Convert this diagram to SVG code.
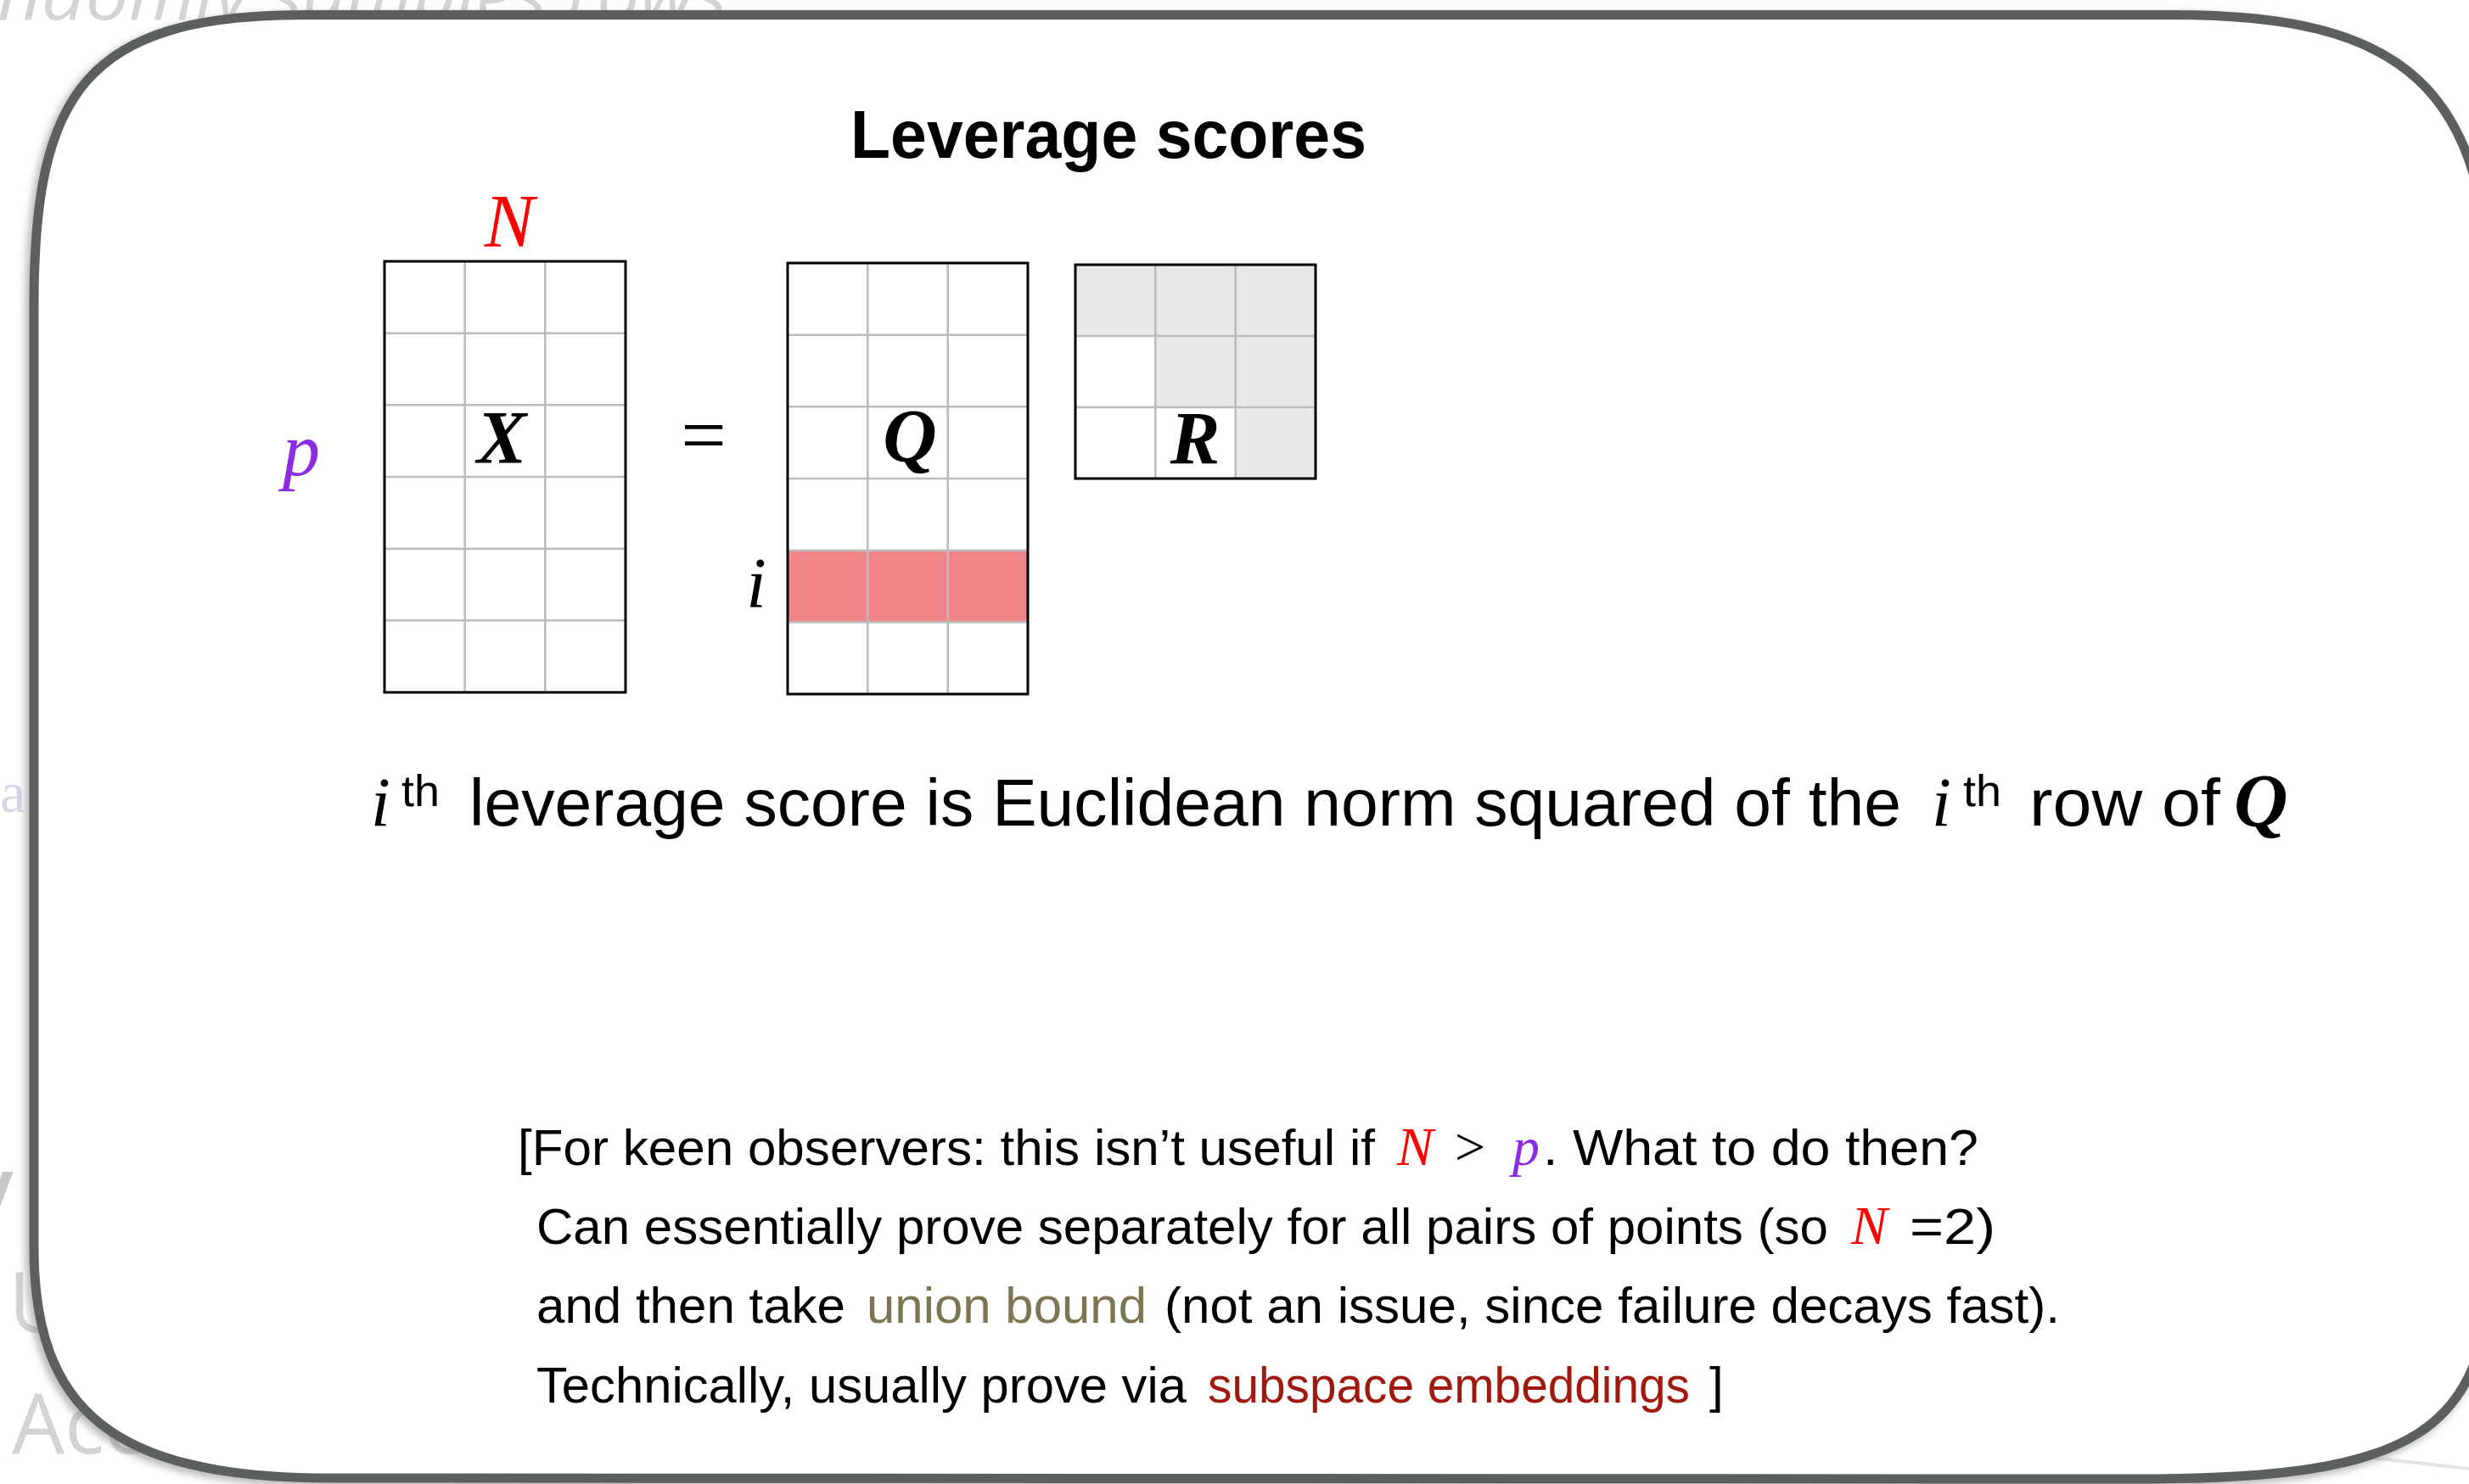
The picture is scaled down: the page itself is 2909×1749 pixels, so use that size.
<svg xmlns="http://www.w3.org/2000/svg" width="2909" height="1749" viewBox="0 0 2909 1749">
  <defs>
    <filter id="shadow" x="-5%" y="-5%" width="110%" height="110%">
      <feGaussianBlur stdDeviation="5"/>
    </filter>
    <style>
      .bg { font-family: "Open Sans", "Liberation Sans", sans-serif; fill: #D4D4D4; }
      .sans { font-family: "Liberation Sans", "DejaVu Sans", sans-serif; fill: #000; }
      .math { font-family: "Liberation Serif", "DejaVu Serif", serif; font-style: italic; }
      .mbold { font-family: "Liberation Serif", "DejaVu Serif", serif; font-style: italic; font-weight: bold; fill: #000; }
      .rel { font-family: "Liberation Serif", "DejaVu Serif", serif; fill: #000; }
      .cell { fill: none; stroke: #BBBBBB; stroke-width: 2.5; }
      .border { fill: none; stroke: #000; stroke-width: 3; }
      .red { fill: #FF0000; }
      .purple { fill: #8B2BE2; }
    </style>
  </defs>
  <rect x="0" y="0" width="2909" height="1749" fill="#FFFFFF"/>

  <!-- faint background slide remnants -->
  <g id="background-remnants">
    <text class="bg" x="-3" y="23" font-size="80" font-style="italic" textLength="860" lengthAdjust="spacingAndGlyphs">ndomly samples rows</text>
    <text x="0" y="957" font-family="Liberation Serif, serif" font-size="68" fill="#D6D6E8">a</text>
    <text class="bg" x="-30" y="1425" font-size="80" font-weight="bold" style="fill:#C8C8C8">v</text>
    <text class="bg" x="10" y="1570" font-size="98">U</text>
    <text class="bg" x="14" y="1713" font-size="98">Acc</text>
    <line x1="2760" y1="1714" x2="2909" y2="1731" stroke="#E4E4E0" stroke-width="4"/>
  </g>

  <!-- rounded frame -->
  <g id="frame">
    <path d="M 360,17.5 L 2560,17.5 C 2830,17.5 2935,100 2935,380 L 2935,1470 C 2935,1690 2845,1743 2520,1743 L 390,1742 C 130,1742 40,1660 40,1470 L 40,360 C 40,110 100,17.5 360,17.5 Z" fill="none" stroke="#777777" stroke-opacity="0.55" stroke-width="12" transform="translate(-4,4)" filter="url(#shadow)"/>
    <path d="M 360,17.5 L 2560,17.5 C 2830,17.5 2935,100 2935,380 L 2935,1470 C 2935,1690 2845,1743 2520,1743 L 390,1742 C 130,1742 40,1660 40,1470 L 40,360 C 40,110 100,17.5 360,17.5 Z" fill="#FFFFFF" stroke="#5B605F" stroke-width="11"/>
  </g>

  <g id="title">
    <text class="sans" x="1002" y="186" font-size="80" font-weight="bold" textLength="608" lengthAdjust="spacingAndGlyphs">Leverage scores</text>
  </g>

  <g id="label-N">
    <text class="math red" x="600" y="290" font-size="88" text-anchor="middle">N</text>
  </g>
  <g id="label-p">
    <text class="math purple" x="355" y="560" font-size="88" text-anchor="middle">p</text>
  </g>

  <g id="matrix-X">
    <rect x="453" y="308" width="284" height="508" fill="#FFFFFF"/>
    <path class="cell" d="M 547.7,308 V 816 M 642.3,308 V 816 M 453,392.7 H 737 M 453,477.3 H 737 M 453,562 H 737 M 453,646.7 H 737 M 453,731.3 H 737"/>
    <rect class="border" x="453" y="308" width="284" height="508"/>
    <text class="mbold" x="591" y="545" font-size="88" text-anchor="middle">X</text>
  </g>

  <g id="equals">
    <text class="rel" x="829" y="545" font-size="95" text-anchor="middle">=</text>
  </g>

  <g id="matrix-Q">
    <rect x="928" y="310" width="283" height="508" fill="#FFFFFF"/>
    <rect x="928" y="648.7" width="283" height="84.6" fill="#F0868A"/>
    <path class="cell" d="M 1022.3,310 V 818 M 1116.7,310 V 818 M 928,394.7 H 1211 M 928,479.3 H 1211 M 928,564 H 1211 M 928,648.7 H 1211 M 928,733.3 H 1211"/>
    <rect class="border" x="928" y="310" width="283" height="508"/>
    <text class="mbold" x="1072" y="543" font-size="88" text-anchor="middle">Q</text>
  </g>

  <g id="label-i">
    <text class="math" x="891" y="716" font-size="85" text-anchor="middle" fill="#000">i</text>
  </g>

  <g id="matrix-R">
    <rect x="1267" y="312" width="283" height="252" fill="#FFFFFF"/>
    <path d="M 1267,312 H 1550 V 564 H 1455.7 V 480 H 1361.3 V 396 H 1267 Z" fill="#E9E9E9"/>
    <path class="cell" d="M 1361.3,312 V 564 M 1455.7,312 V 564 M 1267,396 H 1550 M 1267,480 H 1550"/>
    <rect class="border" x="1267" y="312" width="283" height="252"/>
    <text class="mbold" x="1408" y="546" font-size="88" text-anchor="middle">R</text>
  </g>

  <g id="connectors"></g>

  <g id="sentence">
    <text class="math" x="437" y="973" font-size="82" fill="#000">i</text>
    <text class="sans" x="473" y="950" font-size="52" textLength="45" lengthAdjust="spacingAndGlyphs">th</text>
    <text class="sans" x="553" y="973" font-size="78" textLength="1687" lengthAdjust="spacingAndGlyphs">leverage score is Euclidean norm squared of the</text>
    <text class="math" x="2276" y="973" font-size="82" fill="#000">i</text>
    <text class="sans" x="2313" y="950" font-size="52" textLength="45" lengthAdjust="spacingAndGlyphs">th</text>
    <text class="sans" x="2391" y="973" font-size="78" textLength="225" lengthAdjust="spacingAndGlyphs">row of</text>
    <text class="mbold" x="2632" y="973" font-size="88">Q</text>
  </g>

  <g id="note">
    <text class="sans" x="610" y="1373" font-size="60" textLength="1010" lengthAdjust="spacingAndGlyphs">[For keen observers: this isn’t useful if</text>
    <text class="math red" x="1646" y="1373" font-size="64">N</text>
    <text class="rel" x="1714" y="1373" font-size="64">&gt;</text>
    <text class="math purple" x="1782" y="1373" font-size="64">p</text>
    <text class="sans" x="1818" y="1373" font-size="60" textLength="513" lengthAdjust="spacingAndGlyphs">. What to do then?</text>

    <text class="sans" x="632" y="1466" font-size="60" textLength="1522" lengthAdjust="spacingAndGlyphs">Can essentially prove separately for all pairs of points (so</text>
    <text class="math red" x="2181" y="1466" font-size="64">N</text>
    <text class="sans" x="2250" y="1466" font-size="60" textLength="101" lengthAdjust="spacingAndGlyphs">=2)</text>

    <text class="sans" x="632" y="1559" font-size="60" textLength="364" lengthAdjust="spacingAndGlyphs">and then take</text>
    <text class="sans" x="1021" y="1559" font-size="60" textLength="330" lengthAdjust="spacingAndGlyphs" style="fill:#7D7552">union bound</text>
    <text class="sans" x="1372" y="1559" font-size="60" textLength="1055" lengthAdjust="spacingAndGlyphs">(not an issue, since failure decays fast).</text>

    <text class="sans" x="632" y="1653" font-size="60" textLength="766" lengthAdjust="spacingAndGlyphs">Technically, usually prove via</text>
    <text class="sans" x="1423" y="1653" font-size="60" textLength="568" lengthAdjust="spacingAndGlyphs" style="fill:#A0190E">subspace embeddings</text>
    <text class="sans" x="2014" y="1653" font-size="60">]</text>
  </g>
</svg>
